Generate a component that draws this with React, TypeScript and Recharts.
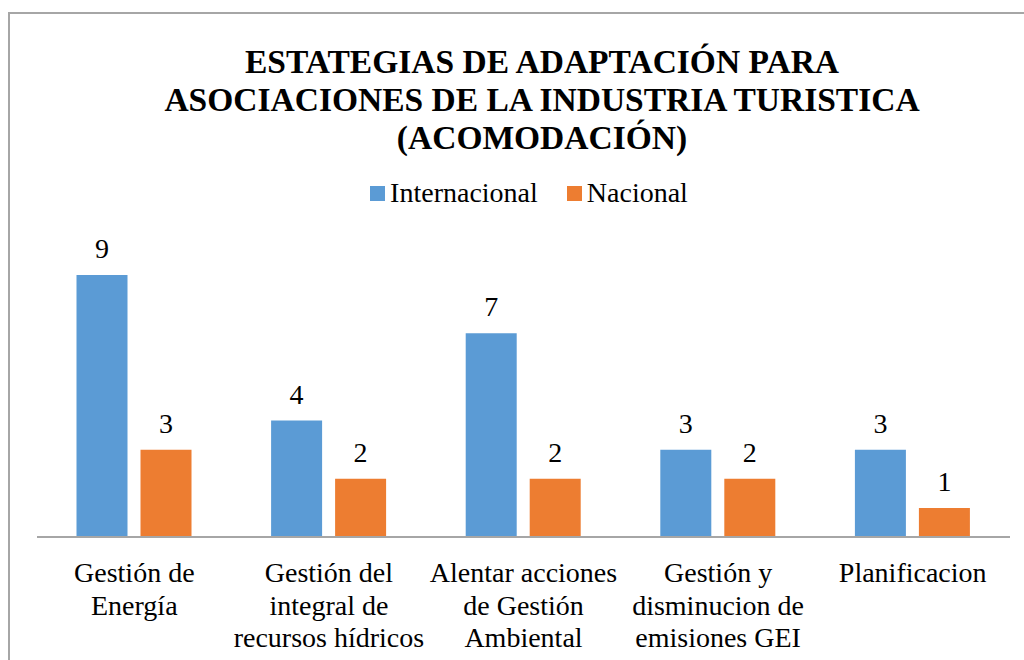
import React from "react";
import { BarChart, Bar, XAxis, YAxis, Legend, LabelList } from "recharts";

const categories = [
  "Gestión de\nEnergía",
  "Gestión del\nintegral de\nrecursos hídricos",
  "Alentar acciones\nde Gestión\nAmbiental",
  "Gestión y\ndisminucion de\nemisiones GEI",
  "Planificacion",
];
const internacional = [9, 4, 7, 3, 3];
const nacional = [3, 2, 2, 2, 1];
const titleLines = [
  "ESTATEGIAS DE ADAPTACIÓN PARA",
  "ASOCIACIONES DE LA INDUSTRIA TURISTICA",
  "(ACOMODACIÓN)",
];

const data = categories.map((c, i) => ({
  name: c,
  Internacional: internacional[i],
  Nacional: nacional[i],
}));

const FONT = "Liberation Serif";
const BLUE = "#5b9bd5";
const ORANGE = "#ed7d31";

const Tick = (props: any) => {
  const { x, y, payload } = props;
  const lines = String(payload.value).split("\n");
  return (
    <text
      x={x}
      y={y}
      textAnchor="middle"
      style={{ fontFamily: FONT, fontSize: 28 }}
      fill="#000"
    >
      {lines.map((l, i) => (
        <tspan key={i} x={x} dy={i === 0 ? 37 : 32.5}>
          {l}
        </tspan>
      ))}
    </text>
  );
};

const LegendContent = (props: any) => {
  const { payload } = props;
  return (
    <div
      style={{
        display: "flex",
        justifyContent: "center",
        alignItems: "center",
        fontFamily: FONT,
        fontSize: 28,
        color: "#000",
        height: 30,
      }}
    >
      {payload.map((p: any, i: number) => (
        <div
          key={i}
          style={{ display: "flex", alignItems: "center", marginRight: i === 0 ? 29 : 0 }}
        >
          <span
            style={{
              display: "inline-block",
              width: 15,
              height: 15,
              background: p.color,
              marginRight: 5,
            }}
          />
          <span>{p.value}</span>
        </div>
      ))}
    </div>
  );
};

export default function App() {
  return (
    <div
      style={{
        position: "relative",
        width: 1024,
        height: 660,
        overflow: "hidden",
        background: "#fff",
        fontFamily: FONT,
      }}
    >
      <style>{`body{margin:0;overflow:hidden;}`}</style>
      <div
        style={{
          position: "absolute",
          left: 8,
          top: 12,
          width: 1040,
          height: 700,
          borderTop: "2px solid #a6a6a6",
          borderLeft: "2px solid #a6a6a6",
        }}
      />
      <div
        style={{
          position: "absolute",
          left: 42,
          width: 1000,
          top: 43,
          textAlign: "center",
          fontFamily: FONT,
          fontSize: 33.5,
          fontWeight: "bold",
          lineHeight: "38px",
          color: "#000",
        }}
      >
        {titleLines.map((t, i) => (
          <div key={i}>{t}</div>
        ))}
      </div>
      <div style={{ position: "absolute", left: 0, top: 0 }}>
        <BarChart
          width={1024}
          height={660}
          data={data}
          margin={{ top: 216, right: 14, bottom: 13, left: 37 }}
          barCategoryGap="20.3%"
          barGap={13}
          style={{ fontFamily: FONT }}
        >
          <XAxis
            dataKey="name"
            interval={0}
            tickLine={false}
            axisLine={{ stroke: "#a6a6a6", strokeWidth: 2 }}
            tick={<Tick />}
            height={110}
          />
          <YAxis hide domain={[0, 10]} />
          <Legend
            verticalAlign="top"
            content={<LegendContent />}
            wrapperStyle={{ top: 178, left: 17, width: 1024 }}
          />
          <Bar dataKey="Internacional" fill={BLUE} isAnimationActive={false}>
            <LabelList
              dataKey="Internacional"
              position="top"
              offset={17}
              style={{ fontFamily: FONT, fontSize: 28 }}
              fill="#000"
            />
          </Bar>
          <Bar dataKey="Nacional" fill={ORANGE} isAnimationActive={false}>
            <LabelList
              dataKey="Nacional"
              position="top"
              offset={17}
              style={{ fontFamily: FONT, fontSize: 28 }}
              fill="#000"
            />
          </Bar>
        </BarChart>
      </div>
    </div>
  );
}
